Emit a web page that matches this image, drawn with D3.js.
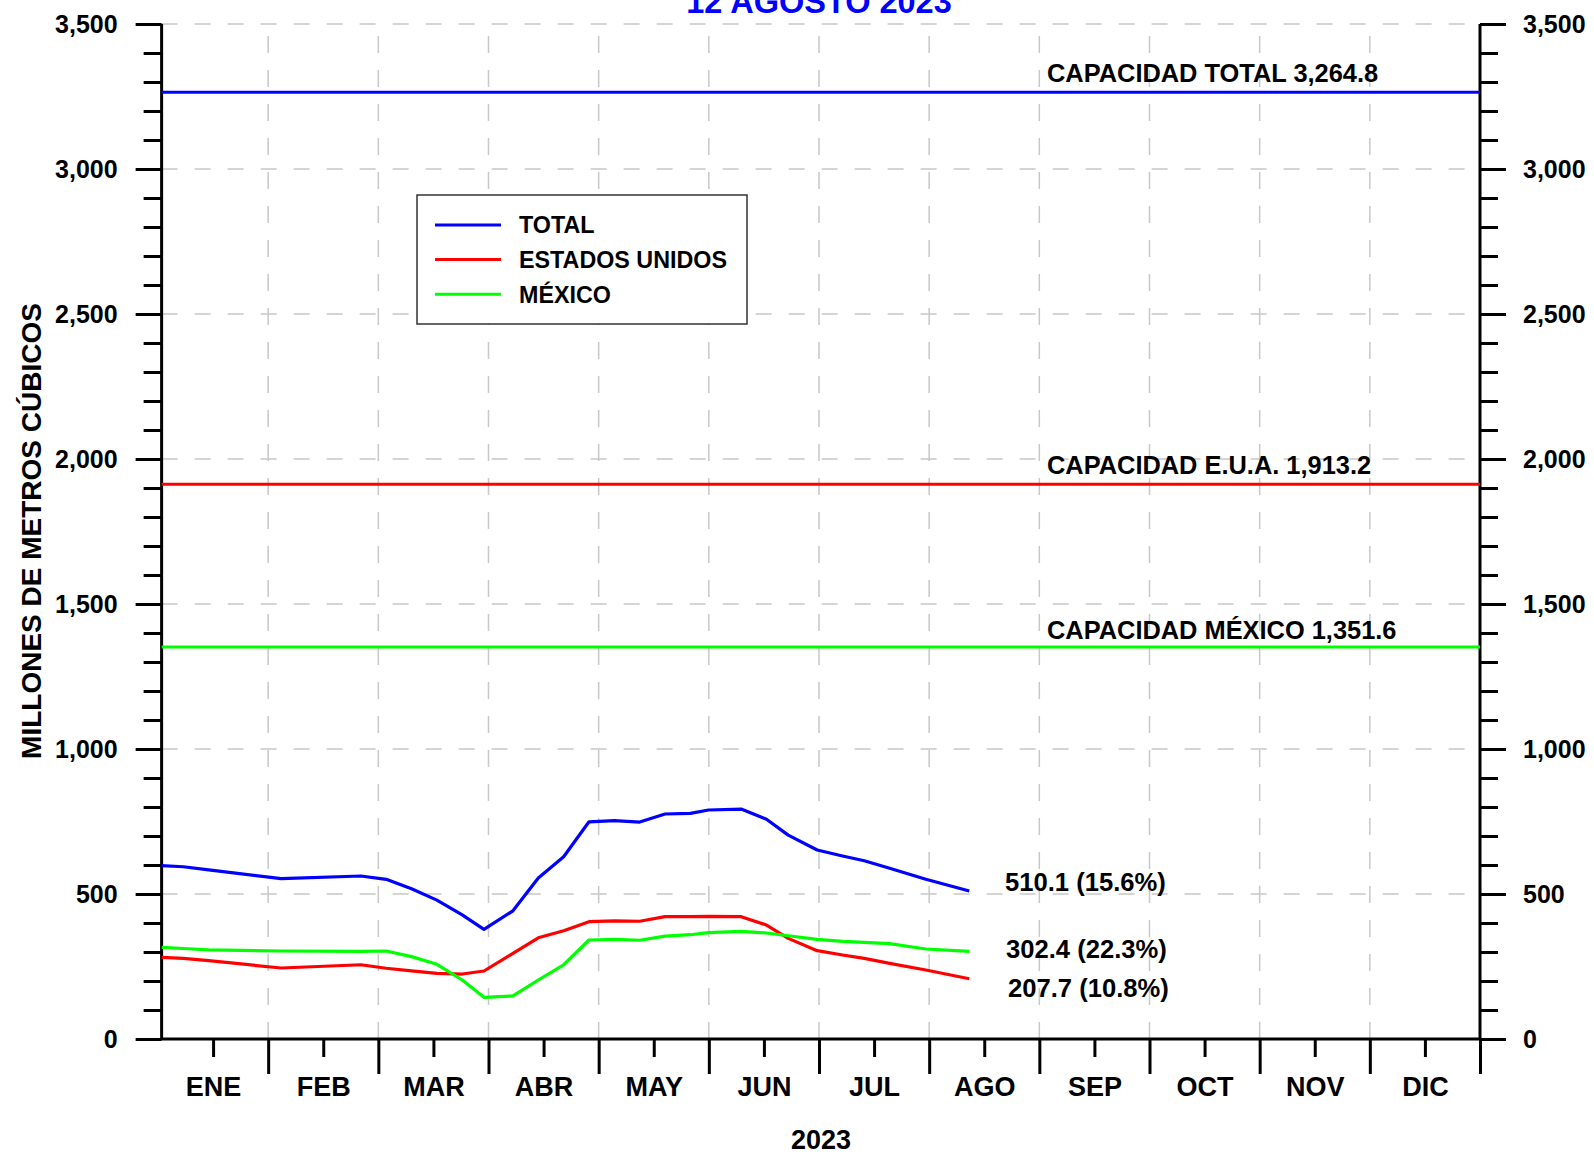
<!DOCTYPE html>
<html>
<head>
<meta charset="utf-8">
<script src="https://cdnjs.cloudflare.com/ajax/libs/d3/7.8.5/d3.min.js"></script>
<style>
	body { margin: 0; background: #fff; }
	svg { display: block; font-family: "Liberation Sans", Arial, sans-serif; font-weight: bold; }
</style>
</head>
<body>
<script>
// dia del año de cada lectura (2023)
var dias = [1, 7, 14, 34, 56, 63, 70, 77, 84, 90, 98, 105, 112, 119, 126, 133, 140, 147, 152, 161, 168, 174, 182, 189, 195, 202, 212, 224];

var total = [597.6, 594, 583, 552.8, 562, 550.6, 518, 479, 428, 378, 442, 555, 628.6, 749, 752.7, 748, 775.8, 778, 789.6, 793, 757.5, 703, 651.7, 631, 614.8, 588.6, 550.6, 510.1];
var eua = [281.7, 278, 270, 244.8, 256, 244, 235, 226.5, 224, 234.5, 295.5, 349, 373, 404.5, 407, 406, 421.8, 421.8, 423, 421.8, 393, 347, 304.5, 289.6, 278, 261, 238, 207.7];
var mexico = [316, 312, 307, 303.4, 302.4, 303.4, 284, 257.5, 203.4, 143.6, 148.5, 203.4, 256, 341.4, 343.6, 340.5, 355, 359.6, 367, 371.4, 365.5, 356, 343.8, 336.9, 333.4, 328.6, 310.3, 302.4];

var meses = ["ENE", "FEB", "MAR", "ABR", "MAY", "JUN", "JUL", "AGO", "SEP", "OCT", "NOV", "DIC"];
var series = ["TOTAL", "ESTADOS UNIDOS", "MÉXICO"];
var colores = ["#0000ff", "#ff0000", "#00ff00"];
var capacidades = [3264.8, 1913.2, 1351.6];
var capacidadTextos = ["CAPACIDAD TOTAL 3,264.8", "CAPACIDAD E.U.A. 1,913.2", "CAPACIDAD MÉXICO 1,351.6"];
var finalTextos = ["510.1 (15.6%)", "207.7 (10.8%)", "302.4 (22.3%)"];

var width = 1594,
	height = 1154;

var svg = d3.select("body").append("svg")
	.attr("width", width)
	.attr("height", height);

// meses de igual ancho: 365/12 dias cada uno
var mesLargo = 365 / 12;
var x = d3.scaleLinear().domain([0, 365]).range([158, 1480]);
var y = d3.scaleLinear().domain([0, 3500]).range([1039, 24]);
var x0 = x(1), x1 = x(365);

var limites = d3.range(1, 13).map(function(k){ return k * mesLargo; });
var medios = d3.range(0, 12).map(function(k){ return (k + 0.5) * mesLargo; });

// rejilla
svg.append("g").selectAll("line")
	.data(d3.range(500, 3501, 500)).enter()
	.append("line")
	.attr("x1", x0).attr("x2", x1)
	.attr("y1", function(d){ return y(d); })
	.attr("y2", function(d){ return y(d); })
	.attr("stroke", "#c8c8c8")
	.attr("stroke-width", 1.5)
	.attr("stroke-dasharray", "16,17");

svg.append("g").selectAll("line")
	.data(limites.slice(0, 11)).enter()
	.append("line")
	.attr("x1", function(d){ return x(d); })
	.attr("x2", function(d){ return x(d); })
	.attr("y1", y(0)).attr("y2", y(3500))
	.attr("stroke", "#c8c8c8")
	.attr("stroke-width", 1.5)
	.attr("stroke-dasharray", "17,17");

// ejes Y (menores cada 100, mayores cada 500)
var menores = d3.range(0, 3501, 100).filter(function(d){ return d % 500 != 0; });
var mayores = d3.range(0, 3501, 500);

function estiloEje(g){
	g.select(".domain").remove();
	g.selectAll("line").attr("stroke", "#000").attr("stroke-width", 3);
	g.selectAll("text")
		.attr("fill", "#000")
		.style("font-size", "25px")
		.style("font-family", "'Liberation Sans', Arial, sans-serif")
		.style("font-weight", "bold");
}

svg.append("g").attr("transform", "translate(" + x0 + ",0)")
	.call(d3.axisLeft(y).tickValues(menores).tickSize(18).tickFormat(""))
	.call(estiloEje);
svg.append("g").attr("transform", "translate(" + x0 + ",0)")
	.call(d3.axisLeft(y).tickValues(mayores).tickSize(26).tickPadding(18).tickFormat(d3.format(",")))
	.call(estiloEje);
svg.append("g").attr("transform", "translate(" + x1 + ",0)")
	.call(d3.axisRight(y).tickValues(menores).tickSize(18).tickFormat(""))
	.call(estiloEje);
svg.append("g").attr("transform", "translate(" + x1 + ",0)")
	.call(d3.axisRight(y).tickValues(mayores).tickSize(26).tickPadding(17).tickFormat(d3.format(",")))
	.call(estiloEje);

// eje X
svg.append("g").attr("transform", "translate(0," + y(0) + ")")
	.call(d3.axisBottom(x).tickValues(limites).tickSize(35).tickFormat(""))
	.call(estiloEje);
svg.append("g").attr("transform", "translate(0," + y(0) + ")")
	.call(d3.axisBottom(x).tickValues(medios).tickSize(18).tickPadding(20)
		.tickFormat(function(d, i){ return meses[i]; }))
	.call(estiloEje)
	.selectAll("text").style("font-size", "27px");

// marco
svg.append("path")
	.attr("d", "M" + x0 + "," + y(3500) + "V" + y(0) + "H" + x1 + "V" + y(3500))
	.attr("fill", "none")
	.attr("stroke", "#000")
	.attr("stroke-width", 3);

// capacidades
var offsetsCap = [10, 10, 8];
capacidades.forEach(function(c, i){
	svg.append("line")
		.attr("x1", x0).attr("x2", x1)
		.attr("y1", y(c)).attr("y2", y(c))
		.attr("stroke", colores[i])
		.attr("stroke-width", 3);
	svg.append("text")
		.attr("x", 1047)
		.attr("y", y(c) - offsetsCap[i])
		.style("font-size", "25.4px")
		.text(capacidadTextos[i]);
});

// series
var dataset = [total, eua, mexico];
var line = d3.line()
	.x(function(d, i){ return x(dias[i]); })
	.y(function(d){ return y(d); });

svg.selectAll(".serie")
	.data(dataset).enter()
	.append("path")
	.attr("class", "serie")
	.attr("d", line)
	.attr("fill", "none")
	.attr("stroke", function(d, i){ return colores[i]; })
	.attr("stroke-width", 3.2)
	.attr("stroke-linejoin", "round");

// etiquetas finales
var offsetsFin = [0, 18, 6.5];
var xFin = [1005, 1008, 1006];
dataset.forEach(function(s, i){
	svg.append("text")
		.attr("x", xFin[i])
		.attr("y", y(s[s.length - 1]) + offsetsFin[i])
		.style("font-size", "25.6px")
		.text(finalTextos[i]);
});

// leyenda
var legend = svg.append("g").attr("transform", "translate(417,195)");
legend.append("rect")
	.attr("width", 330).attr("height", 129)
	.attr("fill", "#fff")
	.attr("stroke", "#333")
	.attr("stroke-width", 1.5);
series.forEach(function(s, i){
	var yy = 30 + i * 34.6;
	legend.append("line")
		.attr("x1", 18).attr("x2", 84)
		.attr("y1", yy).attr("y2", yy)
		.attr("stroke", colores[i])
		.attr("stroke-width", 3);
	legend.append("text")
		.attr("x", 102)
		.attr("y", yy + 8.3)
		.style("font-size", "23.3px")
		.text(s);
});

// titulos
svg.append("text")
	.attr("x", 819).attr("y", 13)
	.attr("text-anchor", "middle")
	.attr("fill", "#0000ff")
	.style("font-size", "32.5px")
	.text("12 AGOSTO 2023");

svg.append("text")
	.attr("transform", "translate(41,531) rotate(-90)")
	.attr("text-anchor", "middle")
	.style("font-size", "28px")
	.text("MILLONES DE METROS CÚBICOS");

svg.append("text")
	.attr("x", 821).attr("y", 1149)
	.attr("text-anchor", "middle")
	.style("font-size", "27px")
	.text("2023");
</script>
</body>
</html>
